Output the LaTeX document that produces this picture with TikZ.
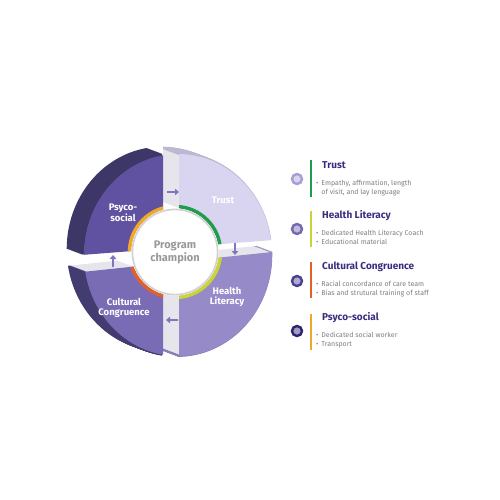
\documentclass[tikz,border=0pt]{standalone}
\usepackage{fontspec}
\setmainfont{Fira Sans}
\usetikzlibrary{arrows.meta, positioning}
\definecolor{trustfront}{HTML}{D9D4EF}
\definecolor{hlfront}{HTML}{968AC8}
\definecolor{ccfront}{HTML}{7A6CB4}
\definecolor{psyfront}{HTML}{6052A0}
\definecolor{trustrim}{HTML}{BDB8D2}
\definecolor{hlrim}{HTML}{8A80B5}
\definecolor{ccrim}{HTML}{433C70}
\definecolor{psyrim}{HTML}{3D3768}
\definecolor{sideface}{HTML}{E6E5EC}
\definecolor{trustgreen}{HTML}{1F9D4C}
\definecolor{hlyellow}{HTML}{CBD436}
\definecolor{ccorange}{HTML}{E2602B}
\definecolor{psyorange}{HTML}{F0A82A}
\definecolor{titlepurple}{HTML}{3A2D7F}
\definecolor{bulletgray}{HTML}{7E7E7E}
\definecolor{arrowpurple}{HTML}{8275BD}
\definecolor{trusticon}{HTML}{A79FD3}
\definecolor{hlicon}{HTML}{7369AE}
\definecolor{ccicon}{HTML}{4B4193}
\definecolor{psyicon}{HTML}{2C2470}

% quadrant cut-outs of the ring
\newcommand{\cliptrust}{(179,247.4) -- (400,230) -- (400,0) -- (179,0) -- cycle}
\newcommand{\clippsy}{(0,261.4) -- (163,248.6) -- (163,0) -- (0,0) -- cycle}
\newcommand{\cliphl}{(179,261.8) -- (400,238.6) -- (400,500) -- (179,500) -- cycle}
\newcommand{\clipcc}{(0,280.6) -- (163,263.5) -- (163,500) -- (0,500) -- cycle}

% #1 clip, #2 side colour, #3 rim colour
\newcommand{\ringside}[3]{%
  \foreach \s in {16,15,...,1}{
    \begin{scope}[shift={(-\s,-0.375*\s)}]
      \clip #1;
      \fill[#2, even odd rule] (178,255) ellipse [x radius=94, y radius=101] (175,252) circle [radius=44];
      \draw[#3, line width=2.6pt] (178,255) ellipse [x radius=94, y radius=101];
    \end{scope}
  }}

% #1 clip, #2 front colour, #3 inner ring colour
\newcommand{\ringfront}[3]{%
  \begin{scope}
    \clip #1;
    \fill[#2, even odd rule] (178,255) ellipse [x radius=94, y radius=101] (175,252) circle [radius=44];
    \draw[#3, line width=3.5pt] (175,252) circle [radius=45.5];
  \end{scope}}

\begin{document}
\begin{tikzpicture}[x=1pt, y=-1pt,
    ringlabel/.style={text=white, font=\bfseries\fontsize{9.5}{10.5}\selectfont, align=center},
    centrelabel/.style={text=black!40, font=\bfseries\fontsize{11}{13}\selectfont, align=center},
    legtitle/.style={anchor=west, inner sep=0pt, text=titlepurple, font=\bfseries\fontsize{10}{12}\selectfont},
    bullets/.style={anchor=west, inner sep=0pt, text=bulletgray, font=\fontsize{7}{9}\selectfont},
    icon/.style={circle, inner sep=0pt, minimum size=10pt, line width=2.4pt},
    legbar/.style={line width=2.2pt},
    gaparrow/.style={line width=2.6pt, arrowpurple, -{Triangle[length=4pt,width=6.5pt]}}
]
\useasboundingbox (0,0) rectangle (500,500);

% ring body
\ringside{\cliptrust}{sideface}{trustrim}
\ringside{\cliphl}{sideface}{hlrim}
\ringside{\clipcc}{sideface}{ccrim}
\ringside{\clippsy}{sideface!80!black}{psyrim}
\ringfront{\cliptrust}{trustfront}{trustgreen}
\ringfront{\cliphl}{hlfront}{hlyellow}
\ringfront{\clipcc}{ccfront}{ccorange}
\ringfront{\clippsy}{psyfront}{psyorange}

% centre
\fill[white] (175,252) circle [radius=43.6];
\draw[black!18, line width=1.6pt] (175,252) circle [radius=42.6];
\node[centrelabel] (champ) at (175,252) {Program\\champion};

\node[ringlabel] (trustL) at (223,200) {Trust};
\node[ringlabel] (psyL) at (123,213) {Psyco-\\social};
\node[ringlabel] (hlL) at (227,297) {Health\\Literacy};
\node[ringlabel] (ccL) at (124,308) {Cultural\\Congruence};

% arrows in the gaps
\coordinate (topA) at (167,192);
\coordinate (topB) at (179,192);
\coordinate (rightA) at (235,243);
\coordinate (rightB) at (235,255);
\coordinate (botA) at (178,320);
\coordinate (botB) at (166,320);
\coordinate (leftA) at (113,267);
\coordinate (leftB) at (113,255);
\draw[gaparrow] (topA) -- (topB);
\draw[gaparrow] (rightA) -- (rightB);
\draw[gaparrow] (botA) -- (botB);
\draw[gaparrow] (leftA) -- (leftB);

% legend
\node[icon, fill=trusticon!45!white, draw=trusticon] (trustI) at (297,179) {};
\draw[legbar, trustgreen] (311,160) -- (311,197);
\node[legtitle] (trustT) at (322,165) {Trust};
\node[bullets] (trustB) at (316,188) {\begin{tabular}{@{}l@{\hspace{3pt}}l@{}}\textbullet & Empathy, affirmation, length\\ & of visit, and lay lenguage\end{tabular}};

\node[icon, fill=hlicon!45!white, draw=hlicon] (hlI) at (297,229) {};
\draw[legbar, hlyellow] (311,211) -- (311,247);
\node[legtitle] (hlT) at (322,216) {Health Literacy};
\node[bullets] (hlB) at (316,238) {\begin{tabular}{@{}l@{\hspace{3pt}}l@{}}\textbullet & Dedicated Health Literacy Coach\\ \textbullet & Educational material\end{tabular}};

\node[icon, fill=ccicon!45!white, draw=ccicon] (ccI) at (297,281) {};
\draw[legbar, ccorange] (311,262) -- (311,298);
\node[legtitle] (ccT) at (322,267) {Cultural Congruence};
\node[bullets] (ccB) at (316,289) {\begin{tabular}{@{}l@{\hspace{3pt}}l@{}}\textbullet & Racial concordance of care team\\ \textbullet & Bias and strutural training of staff\end{tabular}};

\node[icon, fill=psyicon!45!white, draw=psyicon] (psyI) at (297,331) {};
\draw[legbar, psyorange] (311,314) -- (311,350);
\node[legtitle] (psyT) at (322,318) {Psyco-social};
\node[bullets] (psyB) at (316,340) {\begin{tabular}{@{}l@{\hspace{3pt}}l@{}}\textbullet & Dedicated social worker\\ \textbullet & Transport\end{tabular}};

\end{tikzpicture}
\end{document}
